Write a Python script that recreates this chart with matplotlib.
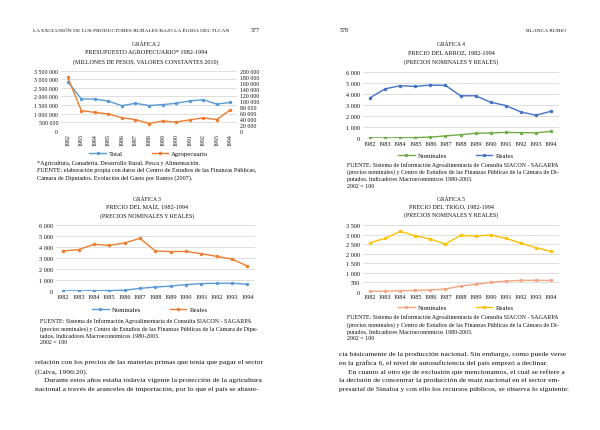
import matplotlib.pyplot as plt
from matplotlib.ticker import FuncFormatter, MultipleLocator

plt.rcParams['font.family'] = ['Liberation Serif', 'DejaVu Serif']

years = [str(y) for y in range(1982, 1995)]

# Grafica 2: presupuesto agropecuario
total = [2860000, 1850000, 1850000, 1720000, 1460000, 1600000, 1470000,
         1520000, 1600000, 1730000, 1810000, 1550000, 1650000]
agropecuario = [178000, 67000, 61000, 56000, 43000, 37000, 24000,
                32000, 29000, 36000, 43000, 37000, 69000]

# Grafica 3: maiz
maiz_nominales = [10, 15, 20, 35, 70, 240, 360, 450, 580, 670, 700, 710, 610]
maiz_reales = [3640, 3760, 4240, 4150, 4360, 4790, 3640, 3580, 3600, 3390,
               3150, 2900, 2270]

# Grafica 4: arroz
arroz_nominales = [0, 10, 20, 40, 80, 190, 300, 420, 460, 510, 480, 470, 600]
arroz_reales = [3640, 4450, 4730, 4670, 4790, 4760, 3820, 3820, 3240, 2940,
                2360, 2060, 2420]

# Grafica 5: trigo
trigo_nominales = [20, 30, 50, 70, 90, 140, 300, 385, 490, 560, 595, 595, 590]
trigo_reales = [2570, 2800, 3165, 2940, 2760, 2500, 2955, 2920, 2970, 2800,
                2550, 2310, 2115]

W, H = 600, 431
TXT = '#111111'
GRID = '#d9d9d9'

fig = plt.figure(figsize=(6, 4.31), dpi=100)


def fx(px):
    return px / W


def fy(py):
    return 1 - py / H


def add_box(left, top, right, bottom):
    return fig.add_axes([fx(left), fy(bottom), (right - left) / W, (bottom - top) / H])


def txt(x, y, s, size=4.3, ha='left', **kw):
    fig.text(fx(x), fy(y), s, fontsize=size, ha=ha, va='center', color=TXT, **kw)


def spaced(v, pos=None):
    return f"{int(round(v)):,}".replace(",", " ")


def style_axes(ax, ymax, step):
    ax.set_xlim(-0.5, len(years) - 0.5)
    ax.set_ylim(0, ymax)
    ax.yaxis.set_major_locator(MultipleLocator(step))
    ax.yaxis.set_major_formatter(FuncFormatter(spaced))
    ax.grid(axis='y', color=GRID, lw=0.6)
    ax.set_axisbelow(True)
    for s in ax.spines.values():
        s.set_visible(False)
    ax.tick_params(length=0, labelsize=4.5, colors=TXT, pad=2)
    ax.set_xticks(range(len(years)))
    ax.set_xticklabels(years)


def add_legend(handles, cx, cy):
    fig.legend(handles=handles, loc='center', bbox_to_anchor=(fx(cx), fy(cy)),
               ncol=2, frameon=False, fontsize=4.9, handlelength=2.4,
               columnspacing=4.2, handletextpad=0.5, labelcolor=TXT)


def price_chart(box, ymax, step, nom, real, c_nom, c_real, leg_x, leg_y):
    ax = add_box(*box)
    style_axes(ax, ymax, step)
    x = range(len(years))
    a, = ax.plot(x, nom, color=c_nom, lw=1.0, marker='o', ms=1.5, label='Nominales')
    b, = ax.plot(x, real, color=c_real, lw=1.0, marker='o', ms=1.5, label='Reales')
    add_legend([a, b], leg_x, leg_y)
    return ax


# page headers
txt(33, 31, 'LA EXCLUSIÓN DE LOS PRODUCTORES RURALES BAJO LA ÉGIDA DEL TLCAN', size=3.9)
txt(260, 31, '577', size=4.3, ha='right')
txt(340, 31, '578', size=4.3)
txt(566, 31, 'BLANCA RUBIO', size=3.9, ha='right')

# ---- Grafica 2
txt(146, 44.5, 'GRÁFICA 2', size=4.0, ha='center')
txt(146, 53, 'PRESUPUESTO AGROPECUARIO* 1982-1994', size=4.4, ha='center')
txt(146, 62, '(MILLONES DE PESOS, VALORES CONSTANTES 2010)', size=4.3, ha='center')

ax1 = add_box(61, 71.7, 237, 131.7)
style_axes(ax1, 3500000, 500000)
ax1.tick_params(axis='x', labelrotation=90, labelsize=4.2)
ax1.tick_params(axis='y', labelsize=4.2)
x = range(len(years))
l1, = ax1.plot(x, total, color='#5b9bd5', lw=1.0, marker='o', ms=1.5, label='Total')
ax1r = ax1.twinx()
ax1r.set_ylim(0, 200000)
ax1r.yaxis.set_major_locator(MultipleLocator(20000))
ax1r.yaxis.set_major_formatter(FuncFormatter(spaced))
for s in ax1r.spines.values():
    s.set_visible(False)
ax1r.tick_params(length=0, labelsize=4.2, colors=TXT, pad=2)
l2, = ax1r.plot(x, agropecuario, color='#ed7d31', lw=1.0, marker='o', ms=1.5,
                label='Agropecuario')
add_legend([l1, l2], 149, 154)

txt(37, 164, '*Agricultura, Ganadería, Desarrollo Rural, Pesca y Alimentación.', size=4.4)
txt(37, 171, 'FUENTE: elaboración propia con datos del Centro de Estudios de las Finanzas Públicas,', size=4.4)
txt(37, 178, 'Cámara de Diputados. Evolución del Gasto por Ramos (2007).', size=4.4)

# ---- Grafica 3
txt(147, 199, 'GRÁFICA 3', size=4.0, ha='center')
txt(147, 207, 'PRECIO DEL MAÍZ, 1982-1994', size=4.4, ha='center')
txt(147, 216, '(PRECIOS NOMINALES Y REALES)', size=4.3, ha='center')
price_chart((55.5, 226, 255, 292), 6000, 1000, maiz_nominales, maiz_reales,
            '#5b9bd5', '#ed7d31', 150, 310)
txt(40, 321.5, 'FUENTE: Sistema de Información Agroalimentaria de Consulta SIACON - SAGARPA', size=4.3)
txt(40, 328.7, '(precios nominales) y Centro de Estudios de las Finanzas Públicas de la Cámara de Dipu-', size=4.3)
txt(40, 335.7, 'tados, Indicadores Macroeconómicos 1980-2003.', size=4.3)
txt(40, 342.7, '2002 = 100', size=4.3)

# body text, left page
txt(35, 363, 'relación con los precios de las materias primas que tenía que pagar el sector', size=5.4)
txt(35, 372, '(Calva, 1996:20).', size=5.4)
txt(44, 381, 'Durante estos años estaba todavía vigente la protección de la agricultura', size=5.4)
txt(35, 390, 'nacional a través de aranceles de importación, por lo que el país se abaste-', size=5.4)

# ---- Grafica 4
txt(451, 44.5, 'GRÁFICA 4', size=4.0, ha='center')
txt(451, 53, 'PRECIO DEL ARROZ, 1982-1994', size=4.4, ha='center')
txt(451, 62, '(PRECIOS NOMINALES Y REALES)', size=4.3, ha='center')
price_chart((362.5, 72.7, 558.5, 139), 6000, 1000, arroz_nominales, arroz_reales,
            '#70ad47', '#4472c4', 456, 156)
txt(347, 165, 'FUENTE: Sistema de Información Agroalimentaria de Consulta SIACON - SAGARPA', size=4.3)
txt(347, 172.3, '(precios nominales) y Centro de Estudios de las Finanzas Públicas de la Cámara de Di-', size=4.3)
txt(347, 179.7, 'putados, Indicadores Macroeconómicos 1980-2003.', size=4.3)
txt(347, 186.7, '2002 = 100', size=4.3)

# ---- Grafica 5
txt(451, 199, 'GRÁFICA 5', size=4.0, ha='center')
txt(451, 207.3, 'PRECIO DEL TRIGO, 1982-1994', size=4.4, ha='center')
txt(451, 215.5, '(PRECIOS NOMINALES Y REALES)', size=4.3, ha='center')
price_chart((362.5, 226, 558.5, 292.7), 3500, 500, trigo_nominales, trigo_reales,
            '#f4a582', '#ffc000', 456, 308.5)
txt(347, 316.7, 'FUENTE: Sistema de Información Agroalimentaria de Consulta SIACON - SAGARPA', size=4.3)
txt(347, 325, '(precios nominales) y Centro de Estudios de las Finanzas Públicas de la Cámara de Di-', size=4.3)
txt(347, 332.3, 'putados, Indicadores Macroeconómicos 1980-2003.', size=4.3)
txt(347, 339, '2002 = 100', size=4.3)

# body text, right page
txt(339, 354.3, 'cía básicamente de la producción nacional. Sin embargo, como puede verse', size=5.4)
txt(339, 362.7, 'en la gráfica 6, el nivel de autosuficiencia del país empezó a declinar.', size=5.4)
txt(348, 371.7, 'En cuanto al otro eje de exclusión que mencionamos, el cual se refiere a', size=5.4)
txt(339, 380.7, 'la decisión de concentrar la producción de maíz nacional en el sector em-', size=5.4)
txt(339, 390, 'presarial de Sinaloa y con ello los recursos públicos, se observa lo siguiente:', size=5.4)

fig.savefig('out.png', dpi=100, facecolor='white')
